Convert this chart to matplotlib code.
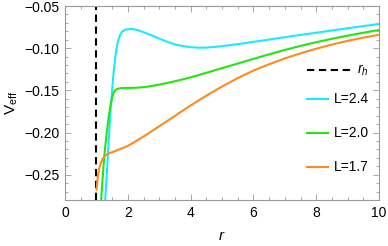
import matplotlib
matplotlib.use("Agg")
import matplotlib.pyplot as plt

plt.rcParams['font.family'] = ['Liberation Sans', 'DejaVu Sans']
plt.rcParams['mathtext.fontset'] = 'custom'
plt.rcParams['mathtext.rm'] = 'Liberation Sans'
plt.rcParams['mathtext.it'] = 'Liberation Sans:italic'

# horizon radius
r_h = 1.0

# L = 2.4
r_24 = [1.28, 1.34, 1.40, 1.45, 1.50, 1.55, 1.60, 1.65, 1.70, 1.76, 1.83, 1.91,
        2.00, 2.10, 2.20, 2.35, 2.50, 2.70, 2.90, 3.10, 3.30, 3.50, 3.75, 4.00,
        4.25, 4.50, 4.75, 5.00, 5.50, 6.00, 6.50, 7.00, 7.50, 8.00, 8.50, 9.00,
        9.50, 10.0]
V_24 = [-0.2800, -0.2440, -0.2050, -0.1750, -0.1500, -0.1280, -0.1110, -0.0985,
        -0.0900, -0.0840, -0.0800, -0.0782, -0.0775, -0.0772, -0.0776, -0.0790,
        -0.0810, -0.0840, -0.0870, -0.0902, -0.0930, -0.0955, -0.0975, -0.0988,
        -0.0994, -0.0993, -0.0986, -0.0976, -0.0952, -0.0925, -0.0898, -0.0870,
        -0.0843, -0.0817, -0.0790, -0.0764, -0.0738, -0.0713]

# L = 2.0
r_20 = [1.15, 1.18, 1.22, 1.26, 1.30, 1.34, 1.40, 1.44, 1.50, 1.55, 1.60, 1.66,
        1.75, 1.85, 2.00, 2.20, 2.40, 2.60, 2.80, 3.00, 3.25, 3.50, 3.75, 4.00,
        4.50, 5.00, 5.50, 6.00, 6.50, 7.00, 7.50, 8.00, 8.50, 9.00, 9.50, 10.0]
V_20 = [-0.2800, -0.2640, -0.2430, -0.2245, -0.2100, -0.1970, -0.1800, -0.1690,
        -0.1590, -0.1530, -0.1500, -0.1484, -0.1475, -0.1472, -0.1471, -0.1470,
        -0.1466, -0.1458, -0.1446, -0.1432, -0.1413, -0.1392, -0.1370, -0.1346,
        -0.1292, -0.1237, -0.1182, -0.1127, -0.1073, -0.1021, -0.0973, -0.0929,
        -0.0889, -0.0852, -0.0817, -0.0784]

# L = 1.7
r_17 = [1.00, 1.02, 1.05, 1.08, 1.12, 1.17, 1.23, 1.30, 1.40, 1.50, 1.60, 1.70,
        1.80, 1.90, 2.00, 2.10, 2.20, 2.35, 2.50, 2.75, 3.00, 3.25, 3.50, 3.75,
        4.00, 4.25, 4.50, 4.75, 5.00, 5.50, 6.00, 6.50, 7.00, 7.50, 8.00, 8.50,
        9.00, 9.50, 10.0]
V_17 = [-0.2690, -0.2610, -0.2510, -0.2445, -0.2385, -0.2335, -0.2295, -0.2268,
        -0.2248, -0.2233, -0.2219, -0.2204, -0.2190, -0.2175, -0.2158, -0.2138,
        -0.2116, -0.2082, -0.2047, -0.1987, -0.1926, -0.1865, -0.1803, -0.1741,
        -0.1680, -0.1621, -0.1564, -0.1508, -0.1455, -0.1355, -0.1265, -0.1190,
        -0.1122, -0.1061, -0.1006, -0.0957, -0.0913, -0.0875, -0.0841]

labels = ['L=2.4', 'L=2.0', 'L=1.7']
colors = ['#19EBFF', '#22E612', '#FF8A1E']

fig = plt.figure(figsize=(3.88, 2.46), dpi=100)
ax = fig.add_axes([65 / 388, 1 - 200 / 246, 314 / 388, 194 / 246])

ax.axvline(r_h, color='black', lw=1.5, ls=(0, (3.5, 2.2)))
for r, V, c in zip([r_24, r_20, r_17], [V_24, V_20, V_17], colors):
    ax.plot(r, V, color=c, lw=1.5, solid_capstyle='butt', solid_joinstyle='round')

ax.set_xlim(0, 10)
ax.set_ylim(-0.28, -0.05)
ax.set_xticks([0, 2, 4, 6, 8, 10])
ax.set_yticks([-0.25, -0.20, -0.15, -0.10, -0.05])
ax.set_yticklabels(['\u22120.25', '\u22120.20', '\u22120.15', '\u22120.10', '\u22120.05'])
ax.set_xticks([i * 0.5 for i in range(21)], minor=True)
ax.set_yticks([-0.28 + i * 0.01 for i in range(24)], minor=True)

gray = '#9a9a9a'
for s in ax.spines.values():
    s.set_color(gray)
    s.set_linewidth(0.8)
ax.tick_params(which='both', direction='in', top=True, right=True,
               color=gray, width=0.6, labelsize=10, labelcolor='black')
ax.tick_params(which='major', length=4, pad=4)
ax.tick_params(which='minor', length=2.3)

ax.set_xlabel('$r$', fontsize=11, labelpad=7)
ax.set_ylabel(r'$\mathrm{V}_{\mathrm{eff}}$', fontsize=11, labelpad=3)

# legend, Mathematica style
tr = ax.transAxes
ax.plot([0.771, 0.908], [0.670, 0.670], transform=tr, color='black', lw=1.5,
        ls=(0, (3.5, 2.2)), clip_on=False)
ax.text(0.93, 0.670, '$r_h$', transform=tr, fontsize=10, va='center', ha='left')
for y, lab, c in zip([0.519, 0.347, 0.172], labels, colors):
    ax.plot([0.771, 0.838], [y, y], transform=tr, color=c, lw=1.5, clip_on=False)
    ax.text(0.855, y, lab, transform=tr, fontsize=10, va='center', ha='left')

fig.savefig('out.png', dpi=100)
